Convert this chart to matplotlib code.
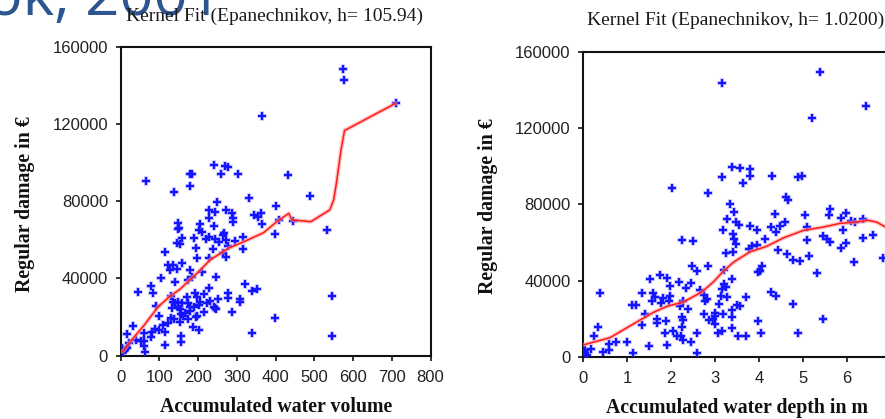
import matplotlib
matplotlib.use("Agg")
import matplotlib.pyplot as plt
import numpy as np

# ---- data: accumulated water volume vs regular damage ----
vol_x = [573, 576, 366, 710,
         240, 270, 276, 179, 185, 259, 303, 432,
         65, 178, 138, 490, 332, 248, 401,
         229, 244, 271, 287, 343, 354, 363,
         291, 289, 229, 408, 366, 444,
         149, 151, 147, 205, 240, 203, 210,
         268, 265, 399, 317, 159, 190, 227, 221,
         244, 272, 296, 145, 153, 253, 316, 238,
         195, 277, 115, 265, 229, 197, 272,
         121, 134, 128, 145, 158, 209, 179,
         104, 247, 140, 173, 184, 78, 320,
         44, 83, 227, 339, 352, 278, 191, 214,
         546, 130, 171, 197, 250, 278, 309, 307,
         134, 140, 149, 158, 175, 205, 224, 231,
         91, 190, 201, 240, 247, 132, 152,
         287, 179, 216, 100, 155, 162, 197,
         129, 138, 174, 399, 153, 123, 186,
         33, 108, 89, 100, 115, 203, 339, 61,
         16, 80, 78, 157, 546, 40, 53, 60,
         156, 115, 60, 22, 3, 11, 7, 63, 17, 534,
         148, 165, 195, 243, 178]
vol_y = [148350, 142800, 124200, 130700,
         98800, 98400, 97900, 94000, 94100, 93950, 94100, 93600,
         90700, 87900, 85000, 82700, 81900, 79400, 77500,
         75500, 74600, 75500, 73700, 72900, 71700, 73700,
         71150, 69400, 71500, 70300, 68200, 70000,
         68600, 66300, 65600, 68200, 67200, 65100, 64200,
         63700, 62500, 62900, 61650, 61100, 61100, 61650, 60400,
         60300, 59900, 59400, 58200, 57700, 59100, 55100, 55100,
         55600, 56800, 53500, 53400, 50400, 50400, 51300,
         47000, 47000, 44500, 44700, 48200, 43500, 44400,
         40200, 40600, 38000, 39200, 40600, 36100, 37000,
         32800, 32600, 34900, 33700, 34700, 32600, 32600, 31950,
         30900, 30900, 30550, 30200, 29200, 29700, 29200, 27800,
         28000, 27100, 28000, 27100, 27100, 27600, 27100, 28100,
         25900, 25400, 26250, 25400, 24000, 24900, 24350,
         22800, 23300, 22600, 20550, 21400, 20550, 20550,
         19300, 18800, 19000, 19700, 17600, 17100, 15000,
         15500, 15900, 13650, 13300, 12100, 13300, 11900, 11900,
         11050, 12400, 9800, 10350, 10350, 8100, 7400, 7600,
         6900, 5500, 5200, 6400, 3800, 2900, 1700, 2100, 3800, 65100,
         25400, 22000, 20200, 24600, 25000]

vol_fit_x = [5, 28, 59, 97, 128, 153, 178, 197, 231, 278, 322, 369, 403,
             434, 442, 491, 540, 550, 557, 563, 569, 578, 710]
vol_fit_y = [2070, 8100, 15400, 25400, 30900, 34400, 39200, 42700, 49600,
             55600, 59400, 63700, 69400, 73700, 70300, 69400, 75500, 80700,
             89300, 97900, 106600, 116600, 130700]

# ---- data: accumulated water depth vs regular damage ----
depth_x = [5.39, 3.15, 6.44, 5.22,
           3.39, 3.58, 3.80, 3.80, 3.17, 4.29, 4.90, 4.99,
           3.64, 2.03, 2.83, 4.62, 4.67, 3.34, 3.44,
           3.28, 3.47, 3.55, 3.80, 3.19, 3.95,
           3.40, 3.43, 3.47, 4.37, 4.27, 4.38, 4.48, 4.59,
           4.15, 3.78, 3.85, 3.95, 3.26, 3.42, 4.44, 4.63,
           4.77, 4.94, 5.14, 5.05, 5.10, 5.10, 2.24, 2.51,
           2.85, 2.48, 2.58, 4.02, 4.08, 3.99, 3.20, 3.39,
           1.52, 1.75, 1.91, 2.19, 2.45, 1.97, 2.34,
           3.21, 3.24, 3.15, 0.38, 1.33, 1.59, 1.63,
           1.81, 1.76, 1.56, 1.97, 1.96, 2.26, 2.20, 2.39,
           2.66, 2.75, 2.81, 2.77, 3.14, 3.28, 3.70,
           3.51, 3.57, 3.09, 3.38, 4.78, 4.27, 4.38,
           5.47, 4.90, 3.99, 4.05, 3.06, 3.15, 3.39, 3.39,
           3.53, 3.70, 3.01, 3.01, 3.19, 2.76, 2.87, 2.95, 3.00,
           2.58, 2.45, 2.60, 2.24, 2.28, 2.24, 2.22, 2.28,
           2.05, 2.13, 1.90, 1.86, 1.67, 1.69, 1.88,
           1.40, 1.33, 1.10, 1.19, 1.50, 1.14, 0.99, 0.74,
           0.59, 0.59, 0.44, 0.34, 0.24, 0.17, 0.04, 0.04, 0.09, 0.00,
           5.62, 5.60, 5.86, 5.98, 6.10, 6.19, 6.36,
           5.91, 5.47, 5.54, 5.63, 5.98, 5.88, 6.36, 6.59,
           6.17, 5.33, 6.83]
depth_y = [149500, 143700, 131600, 125200,
           99700, 99000, 98500, 95000, 94100, 95000, 94100, 95000,
           91100, 88700, 86000, 83600, 82300, 80400, 76000,
           72100, 70900, 69000, 68600, 66300, 66300,
           64200, 61600, 59300, 75100, 68100, 65400, 68600, 70700,
           61900, 56600, 58000, 58400, 54500, 55100, 55800, 54000,
           50700, 50500, 52800, 74200, 68100, 61200, 61200, 60700,
           47500, 47800, 45000, 45200, 47500, 44300, 45400, 40800,
           40800, 43100, 41300, 39200, 38700, 36900, 36100,
           38200, 36600, 35500, 33400, 33400, 33400, 31300,
           30800, 28100, 29000, 31700, 29000, 29000, 26700, 25000,
           35200, 32500, 30300, 29000, 31700, 31300, 31300,
           27300, 26700, 27600, 24600, 27600, 33800, 32000,
           19700, 12300, 18500, 12300, 12700, 13700, 15000, 21100,
           11100, 10900, 22900, 21500, 22500, 22500, 19300, 19700, 17100,
           12700, 7900, 2100, 21100, 19300, 15800, 10900, 8800,
           13700, 10900, 6200, 12700, 19700, 17900, 18800,
           22500, 16400, 27300, 27300, 5600, 1800, 7900, 7900,
           6500, 3500, 2300, 15800, 10900, 3900, 3500, 1800, 900, 2600,
           77700, 74200, 72600, 75600, 71200, 70700, 72500,
           66300, 63300, 61600, 60200, 59500, 57200, 62100, 63700,
           49600, 44000, 51900]

depth_fit_x = [0.00, 0.61, 1.14, 1.59, 1.90, 2.28, 2.70, 2.96, 3.19, 3.42,
               3.80, 4.18, 4.56, 5.01, 5.47, 5.85, 6.23, 6.49, 6.68, 6.87, 6.95]
depth_fit_y = [6200, 10000, 17200, 23200, 26400, 28700, 34000, 39200, 44900,
               49600, 55100, 58000, 62400, 66300, 68100, 70000, 70700, 71600,
               70700, 68300, 67200]

y_ticks = [0, 40000, 80000, 120000, 160000]
vol_ticks = [0, 100, 200, 300, 400, 500, 600, 700, 800]
depth_ticks = [0, 1, 2, 3, 4, 5, 6, 7]

W, H = 885, 419
fig = plt.figure(figsize=(W / 100, H / 100), dpi=100)
fig.patch.set_facecolor("white")


def box(x0, y0, x1, y1):
    """Axes rectangle from pixel corners (top-left origin)."""
    return [x0 / W, 1 - y1 / H, (x1 - x0) / W, (y1 - y0) / H]


def fpos(x, y):
    return x / W, 1 - y / H


ax1 = fig.add_axes(box(120.7, 46.7, 430.5, 355.7))
ax2 = fig.add_axes(box(583.3, 52.0, 583.3 + 7 * 43.9, 356.7))

serif = ["Liberation Serif", "DejaVu Serif"]
sans = ["Liberation Sans", "DejaVu Sans"]
blue = "#1414ff"
red = "#ff1a1a"


def draw(ax, x, y, fx, fy, xticks, xmax):
    ax.plot(x, y, linestyle="none", marker="+", ms=7.0, mew=3.0,
            color="#8c8cff", alpha=0.35, zorder=2)
    ax.plot(x, y, linestyle="none", marker="+", ms=5.4, mew=1.7,
            color=blue, zorder=3)
    ax.plot(fx, fy, color="#ff9a9a", lw=3.0, alpha=0.6, zorder=4,
            solid_capstyle="round")
    ax.plot(fx, fy, color=red, lw=1.1, zorder=5)
    ax.set_xlim(0, xmax)
    ax.set_ylim(0, 160000)
    ax.set_xticks(xticks)
    ax.set_yticks(y_ticks)
    ax.set_xticklabels([str(t) for t in xticks])
    ax.set_yticklabels([str(t) for t in y_ticks])
    for sp in ax.spines.values():
        sp.set_linewidth(1.5)
        sp.set_color("#111111")
    ax.tick_params(direction="out", length=3.6, width=1.2, color="#111111",
                   top=False, right=False, labelsize=12, labelcolor="#222222")
    ax.tick_params(axis="x", pad=6.5)
    ax.tick_params(axis="y", pad=5.5)
    for lab in ax.get_xticklabels() + ax.get_yticklabels():
        lab.set_family(sans)


draw(ax1, vol_x, vol_y, vol_fit_x, vol_fit_y, vol_ticks, 800)
draw(ax2, depth_x, depth_y, depth_fit_x, depth_fit_y, depth_ticks, 7)

# slide heading (citation), partly above the top edge
fig.text(*fpos(222, 15), "Kok, 2001", ha="right", va="baseline",
         fontsize=43, family=["Open Sans", "DejaVu Sans"], color="#2d5590",
         zorder=1)

# panel headings
fig.text(*fpos(275, 16), "Kernel Fit (Epanechnikov, h= 105.94)", ha="center",
         va="center", fontsize=14, family=serif, color="#1a1a1a", zorder=2)
fig.text(*fpos(736, 20), "Kernel Fit (Epanechnikov, h= 1.0200)", ha="center",
         va="center", fontsize=14, family=serif, color="#1a1a1a")

# axis titles
fig.text(*fpos(276, 407), "Accumulated water volume", ha="center", va="center",
         fontsize=14.3, family=serif, fontweight="bold", color="#111111")
fig.text(*fpos(737, 408), "Accumulated water depth in m", ha="center",
         va="center", fontsize=14.3, family=serif, fontweight="bold",
         color="#111111")
fig.text(*fpos(25, 204), "Regular damage in €", ha="center", va="center",
         rotation=90, fontsize=14.3, family=serif, fontweight="bold",
         color="#111111")
fig.text(*fpos(488, 206), "Regular damage in €", ha="center", va="center",
         rotation=90, fontsize=14.3, family=serif, fontweight="bold",
         color="#111111")

fig.savefig("out.png", dpi=100)
